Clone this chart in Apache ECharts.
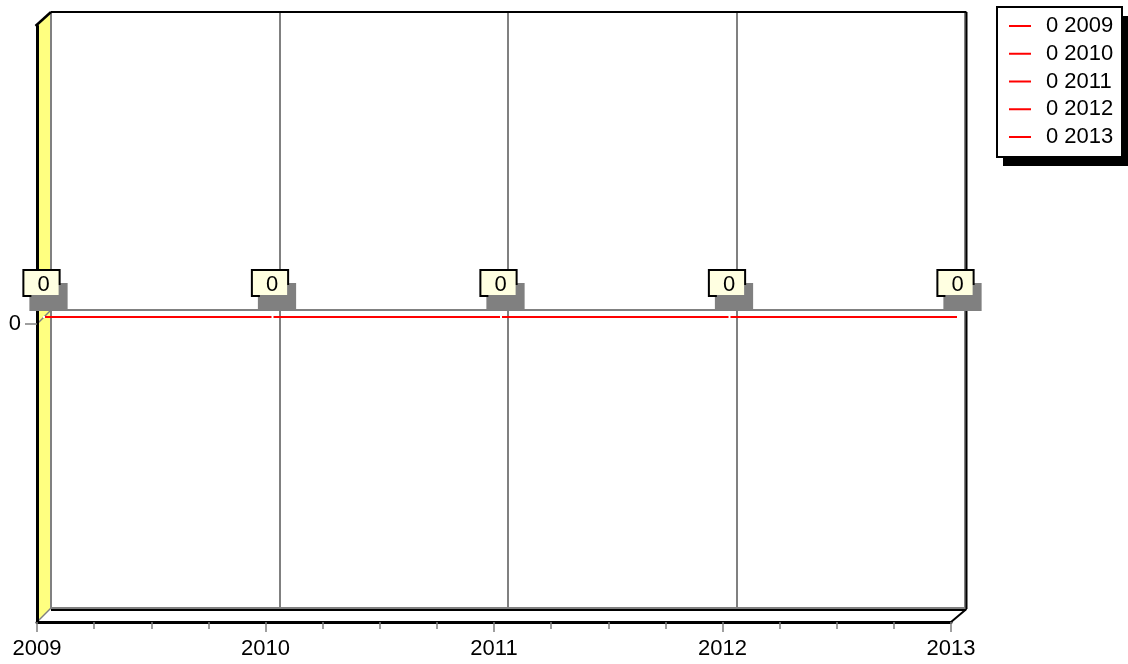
<!DOCTYPE html>
<html>
<head>
<meta charset="utf-8">
<script src="https://cdn.jsdelivr.net/npm/echarts@6/dist/echarts.min.js"></script>
<style>
  html, body { margin: 0; padding: 0; background: #fff; }
  #chart { width: 1128px; height: 664px; }
</style>
</head>
<body>
<div id="chart"></div>
<script>
// ---- data ----
const years = [2009, 2010, 2011, 2012, 2013];
const values = [0, 0, 0, 0, 0];
const xTickLabels = ['2009', '2010', '2011', '2012', '2013'];
const yTickValues = [0];
const yMin = -1, yMax = 1;

// ---- layout of the pseudo-3D box ----
const W = 1128, H = 664;
const FONT = '"Liberation Sans", Arial, Helvetica, sans-serif';
const FONT_SIZE = 22;
const front = { left: 37, top: 26, right: 951, bottom: 622 };
const depth = 14;
const back = { left: front.left + depth, top: front.top - depth, right: front.right + depth, bottom: front.bottom - depth };
const GRAY = '#808080';

function planeGrid(d) {
  return {
    left: front.left + d,
    top: front.top - d,
    right: W - front.right - d,
    bottom: H - front.bottom + d
  };
}

function xAxisFor(gridIndex, extra) {
  return Object.assign({
    type: 'value', gridIndex: gridIndex,
    min: years[0], max: years[years.length - 1], interval: 1,
    axisLine: { show: false }, axisTick: { show: false },
    axisLabel: { show: false }, splitLine: { show: false }
  }, extra || {});
}
function yAxisFor(gridIndex, extra) {
  return Object.assign({
    type: 'value', gridIndex: gridIndex,
    min: yMin, max: yMax, interval: 1,
    axisLine: { show: false }, axisTick: { show: false },
    axisLabel: { show: false }, splitLine: { show: false }
  }, extra || {});
}

const chart = echarts.init(document.getElementById('chart'), null, { renderer: 'canvas' });

chart.setOption({
  animation: false,
  backgroundColor: '#fff',
  textStyle: { fontFamily: FONT },
  grid: [planeGrid(0), planeGrid(depth), planeGrid(depth / 2)],
  xAxis: [
    // front plane: axis line, ticks and year labels
    xAxisFor(0, {
      z: 6,
      axisLine: { show: true, onZero: false, lineStyle: { color: '#000', width: 3 } },
      axisTick: { show: true, length: 10, lineStyle: { color: GRAY, width: 1.5 } },
      minorTick: { show: true, splitNumber: 4, length: 7, lineStyle: { color: GRAY, width: 1.5 } },
      axisLabel: {
        show: true, margin: 16, fontSize: FONT_SIZE, color: '#000', fontFamily: FONT,
        formatter: function (v) { const i = years.indexOf(v); return i >= 0 ? xTickLabels[i] : ''; }
      }
    }),
    // back wall: vertical grid lines
    xAxisFor(1, { z: 1, splitLine: { show: true, lineStyle: { color: GRAY, width: 2 } } }),
    // mid plane: series
    xAxisFor(2)
  ],
  yAxis: [
    yAxisFor(0, {
      z: 6,
      axisLine: { show: true, onZero: false, lineStyle: { color: '#000', width: 3 } },
      axisTick: { show: true, customValues: yTickValues, length: 12, lineStyle: { color: GRAY, width: 1.5 } },
      axisLabel: { show: true, customValues: yTickValues, margin: 16, fontSize: FONT_SIZE, color: '#000', fontFamily: FONT }
    }),
    yAxisFor(1, { z: 1, splitLine: { show: true, lineStyle: { color: GRAY, width: 2 } } }),
    yAxisFor(2)
  ],
  series: [{
    type: 'line',
    name: 'values',
    xAxisIndex: 2, yAxisIndex: 2,
    z: 10,
    data: years.map(function (y, i) { return [y, values[i]]; }),
    symbol: 'rect', symbolSize: 2, showSymbol: true,
    itemStyle: { color: '#fff', borderWidth: 0 },
    lineStyle: { color: '#ff0000', width: 2 },
    label: {
      show: true, position: 'top', distance: 21, offset: [-2.5, 0],
      formatter: function (p) { return String(p.value[1]); },
      fontFamily: FONT, fontSize: FONT_SIZE, lineHeight: 20, color: '#000',
      backgroundColor: '#ffffe1', borderColor: '#000', borderWidth: 2,
      padding: [4, 9, 0, 13],
      shadowColor: GRAY, shadowBlur: 0, shadowOffsetX: 7, shadowOffsetY: 14
    }
  }]
});

// ---- walls, floor, box edges and legend ----
const zeroFront = chart.convertToPixel({ xAxisIndex: 0, yAxisIndex: 0 }, [years[0], yTickValues[0]]);
const zeroBack = chart.convertToPixel({ xAxisIndex: 1, yAxisIndex: 1 }, [years[0], yTickValues[0]]);

function seg(x1, y1, x2, y2, color, width, z) {
  return { type: 'line', z: z, silent: true, shape: { x1: x1, y1: y1, x2: x2, y2: y2 }, style: { stroke: color, lineWidth: width } };
}

const legendBox = { x: 997, y: 7, width: 125, height: 150 };
const legendRowY0 = 26, legendRowStep = 27.75;
const legendItems = years.map(function (y, i) {
  const cy = legendRowY0 + i * legendRowStep;
  return [
    seg(1009, cy, 1031, cy, '#ff0000', 2, 21),
    { type: 'text', z: 21, silent: true, style: { text: values[i] + ' ' + y, x: 1046, y: cy, fontSize: FONT_SIZE, fontFamily: FONT, fill: '#000', verticalAlign: 'middle', align: 'left' } }
  ];
}).reduce(function (a, b) { return a.concat(b); }, []);

const elements = [
  // left side wall
  { type: 'polygon', z: 0, silent: true,
    shape: { points: [[front.left, front.top], [back.left, back.top], [back.left, back.bottom], [front.left, front.bottom]] },
    style: { fill: '#ffff80', stroke: null } },
  // floor
  { type: 'polygon', z: 0, silent: true,
    shape: { points: [[back.left, back.bottom], [back.right, back.bottom], [front.right, front.bottom], [front.left, front.bottom]] },
    style: { fill: '#fff', stroke: null } },
  // edges
  seg(front.left - 1.5, front.top, back.left, back.top, '#000', 2.5, 5),
  seg(back.left, back.top, back.right + 1.5, back.top, '#000', 2, 5),
  seg(back.right + 1.5, back.top, back.right + 1.5, back.bottom + 1, '#000', 2, 5),
  seg(back.left, back.bottom + 2, back.right + 1, back.bottom + 2, '#000', 2, 5),
  seg(back.right + 1.5, back.bottom + 1, front.right, front.bottom, '#000', 2, 5),
  seg(back.left, back.bottom, front.left, front.bottom, GRAY, 1.5, 5),
  // zero tick carried across the side wall
  seg(zeroFront[0], zeroFront[1], zeroBack[0], zeroBack[1], GRAY, 1.5, 5),
  // legend
  { type: 'rect', z: 19, silent: true, shape: { x: legendBox.x + 6, y: legendBox.y + 9, width: legendBox.width, height: legendBox.height }, style: { fill: '#000' } },
  { type: 'rect', z: 20, silent: true, shape: legendBox, style: { fill: '#fff', stroke: '#000', lineWidth: 2 } }
].concat(legendItems);

chart.setOption({ graphic: { elements: elements } });
</script>
</body>
</html>
